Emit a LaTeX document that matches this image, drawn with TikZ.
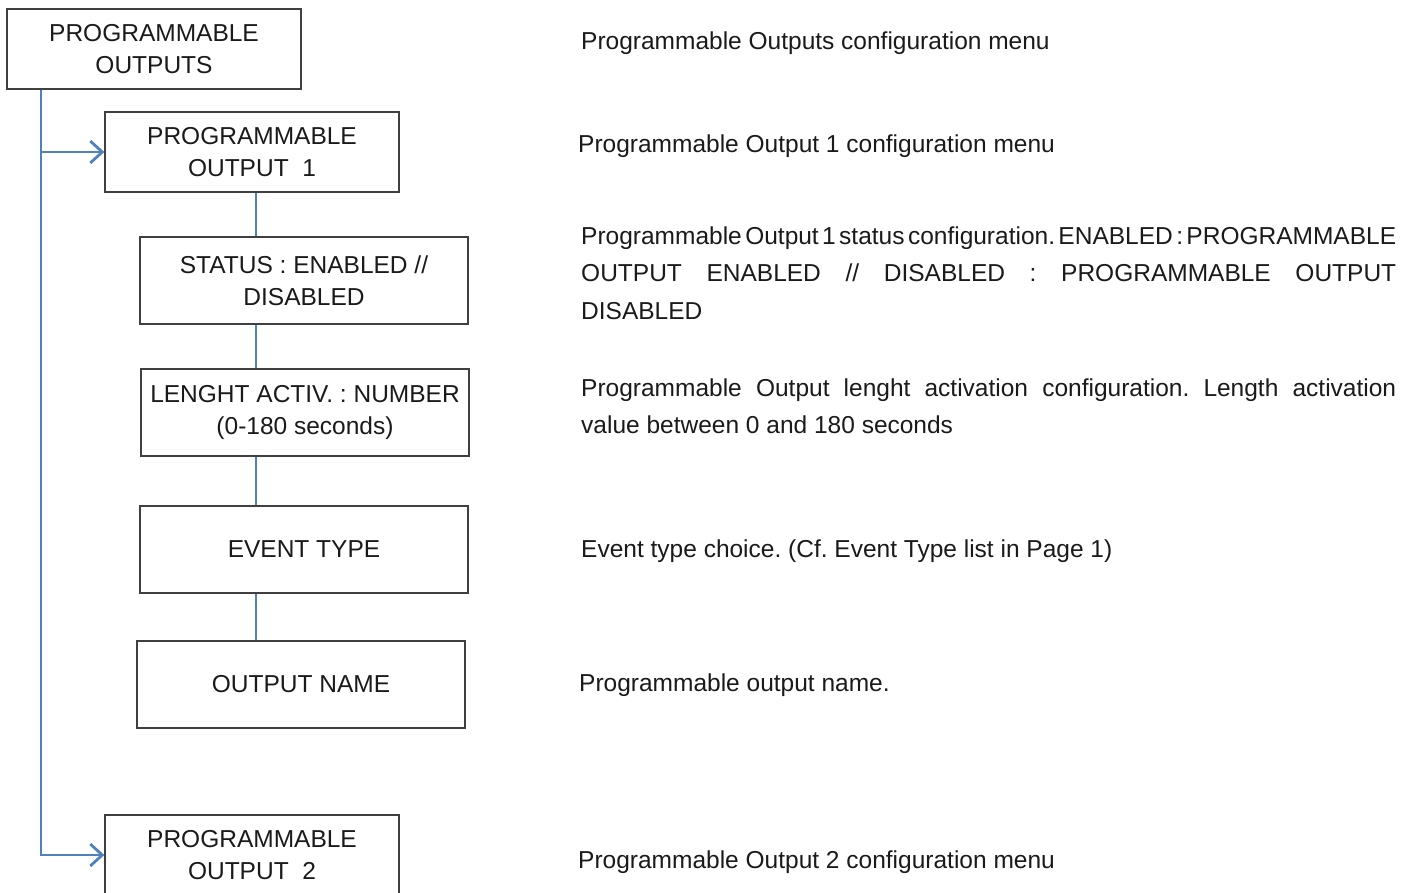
\documentclass[tikz,border=0pt]{standalone}
\usepackage{fontspec}
\setmainfont{Liberation Sans}
\usetikzlibrary{arrows.meta}
\definecolor{linkblue}{HTML}{4F81BD}
\definecolor{boxgray}{HTML}{404040}
\definecolor{txtgray}{HTML}{1A1A1A}
\frenchspacing
\newcommand{\tightgap}{\hspace{3pt plus 2pt}}

\begin{document}
\begin{tikzpicture}[x=1pt, y=-1pt,
    every node/.append style={text=txtgray, font=\fontsize{24.5}{32}\selectfont},
    menu/.style={draw=boxgray, fill=white, line width=1.3pt, rectangle, align=center, inner sep=0pt},
    desc/.style={anchor=base west, inner sep=0pt},
    para/.style={anchor=base west, inner sep=0pt, text width=815pt, align=justify,
                 font=\fontsize{24.5}{37.5}\selectfont}]
    \useasboundingbox (0,0) rectangle (1414,892);

    \coordinate (trunk) at (41,854);
    \coordinate (spine) at (256,0);

    % menu boxes
    \node[menu, minimum width=294pt, minimum height=80pt] (b0) at (154, 49) {PROGRAMMABLE\\OUTPUTS};
    \node[menu, minimum width=294pt, minimum height=80pt] (b1) at (252, 152) {PROGRAMMABLE\\OUTPUT~~1};
    \node[menu, minimum width=328pt, minimum height=87pt] (b2) at (304, 280.5) {STATUS : ENABLED //\\DISABLED};
    \node[menu, minimum width=328pt, minimum height=87pt] (b3) at (305, 412.5) {LENGHT ACTIV. : NUMBER\\(0-180 seconds)};
    \node[menu, minimum width=328pt, minimum height=87pt] (b4) at (304, 549.5) {EVENT TYPE};
    \node[menu, minimum width=328pt, minimum height=87pt] (b5) at (301, 684.5) {OUTPUT NAME};
    \node[menu, minimum width=294pt, minimum height=80pt] (b6) at (252, 855) {PROGRAMMABLE\\OUTPUT~~2};

    % descriptions
    \node[desc] (d0) at (581, 49) {Programmable Outputs configuration menu};
    \node[desc] (d1) at (578, 152) {Programmable Output 1 configuration menu};
    \node[para] (d2) at (581, 244) {Programmable\tightgap Output\tightgap 1\tightgap status\tightgap configuration.\tightgap ENABLED\tightgap :\tightgap PROGRAMMABLE\linebreak
        OUTPUT ENABLED // DISABLED : PROGRAMMABLE OUTPUT\linebreak DISABLED};
    \node[para] (d3) at (581, 396) {Programmable Output lenght activation configuration. Length activation\linebreak
        value between 0 and 180 seconds};
    \node[desc] (d4) at (581, 557) {Event type choice. (Cf. Event Type list in Page 1)};
    \node[desc] (d5) at (579, 691) {Programmable output name.};
    \node[desc] (d6) at (578, 868) {Programmable Output 2 configuration menu};

    \begin{scope}[linkblue, line width=2.8pt, barb/.style={-{Straight Barb[length=12pt, width=22pt, line width=2.8pt]}}]
    \draw[barb] (b0.south -| trunk) |- (b6.west);
    \draw[barb] (trunk |- b1.west) -- (b1.west);
    \foreach \a/\b in {b1/b2, b2/b3, b3/b4, b4/b5}
        \draw (\a.south -| spine) -- (\b.north -| spine);
    \end{scope}
\end{tikzpicture}
\end{document}
